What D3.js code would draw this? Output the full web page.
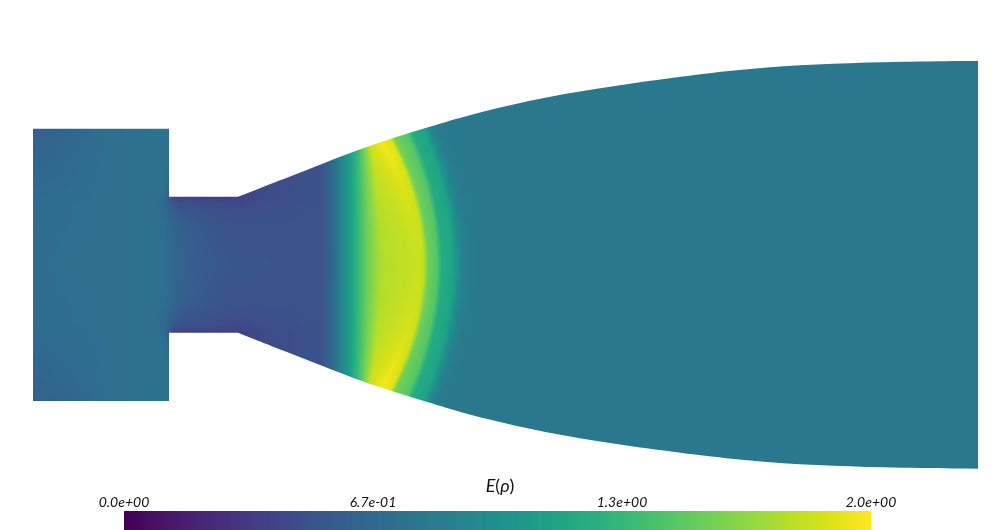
<!DOCTYPE html>
<html lang="en">
<head>
<meta charset="UTF-8">
<title>E(rho) nozzle field</title>
<script src="https://d3js.org/d3.v7.min.js"></script>
<style>
    html, body { margin: 0; padding: 0; background: #fff; }
    #wrap { position: relative; width: 1000px; height: 530px; overflow: hidden; }
    canvas, svg { position: absolute; left: 0; top: 0; }
    text { font-family: 'Lato', sans-serif; fill: #111; }
</style>
</head>
<body>
<div id="wrap">
    <canvas id="field" width="1000" height="530"></canvas>
    <svg id="overlay" width="1000" height="530"></svg>
</div>
<script>
// --- Data ---
// nozzle wall, axial position and half height
const chamberX = [0, 1.36];
const chamberR = [1.36, 1.36];
const throatX = [1.36, 2.05];
const throatR = [0.68, 0.68];
const bellX = [2.05, 2.87, 3.42, 3.97, 4.30, 4.64, 4.97, 5.30, 5.64, 5.97, 6.30, 6.67, 7.34, 8.00, 8.67, 9.45];
const bellR = [0.68, 1.00, 1.215, 1.38, 1.48, 1.565, 1.64, 1.705, 1.76, 1.81, 1.855, 1.905, 1.977, 2.01, 2.03, 2.037];

// field upstream of the shock: E at fixed stations, one row per radius
const upstreamX = [0, 0.37, 0.77, 1.17, 1.32, 1.39, 1.47, 1.72, 2.05, 2.27, 2.67, 2.97];
const upstreamRadii = [0, 0.4, 0.6, 0.68, 0.9, 1.22, 1.36];
const upstreamE = [
    [0.70, 0.72, 0.72, 0.73, 0.71, 0.68, 0.62, 0.56, 0.53, 0.52, 0.50, 0.50],
    [0.70, 0.71, 0.72, 0.73, 0.71, 0.66, 0.60, 0.54, 0.50, 0.50, 0.50, 0.50],
    [0.70, 0.71, 0.72, 0.73, 0.68, 0.56, 0.50, 0.47, 0.44, 0.47, 0.50, 0.50],
    [0.69, 0.70, 0.72, 0.73, 0.70, 0.42, 0.38, 0.37, 0.37, 0.44, 0.49, 0.50],
    [0.66, 0.69, 0.72, 0.74, 0.74, 0.70, 0.60, 0.50, 0.45, 0.45, 0.49, 0.50],
    [0.63, 0.67, 0.72, 0.74, 0.74, 0.74, 0.70, 0.60, 0.50, 0.50, 0.50, 0.50],
    [0.60, 0.65, 0.72, 0.76, 0.76, 0.76, 0.70, 0.60, 0.50, 0.50, 0.50, 0.50]
];

// curved front: the same contours on the axis and near the wall, position and E
const frontWallRadius = 1.22;
const axisX = [2.87, 2.97, 3.04, 3.14, 3.24, 3.34, 3.48, 3.85, 3.90, 3.95, 4.04, 4.09, 4.19, 4.26, 4.35, 4.57];
const wallX = [2.86, 2.96, 3.04, 3.14, 3.23, 3.30, 3.37, 3.49, 3.59, 3.64, 3.78, 3.84, 3.95, 4.02, 4.10, 4.32];
const axisE = [0.50, 0.62, 0.78, 1.05, 1.30, 1.55, 1.76, 1.84, 1.82, 1.56, 1.46, 1.22, 1.17, 0.95, 0.82, 0.80];
const wallE = [0.50, 0.62, 0.78, 1.05, 1.30, 1.55, 1.85, 1.98, 1.90, 1.58, 1.47, 1.22, 1.17, 0.95, 0.82, 0.80];
const farFieldE = 0.80;

const colorbarTicks = [0, 2 / 3, 4 / 3, 2];
const colorbarLabels = ['0.0e+00', '6.7e-01', '1.3e+00', '2.0e+00'];

// --- Scales ---
const x = d3.scaleLinear().domain([0, 9.45]).range([33, 978]);
const y = d3.scaleLinear().domain([-2.04, 2.04]).range([469, 60.6]);
const color = d3.scaleSequential(d3.interpolateViridis).domain([0, 2]);
const barX = d3.scaleLinear().domain([0, 2]).range([124, 871]);

// blend two neighbouring table rows for radius r
function blendRows(radii, rows, r) {
    const i = Math.min(radii.length - 2, Math.max(0, d3.bisectRight(radii, r) - 1));
    const t = Math.min(1, (r - radii[i]) / (radii[i + 1] - radii[i]));
    return rows[i].map((v, k) => v + (rows[i + 1][k] - v) * t);
}

// --- Field ---
const canvas = document.getElementById('field');
const ctx = canvas.getContext('2d');

const buffer = document.createElement('canvas');
buffer.width = 1000;
buffer.height = 530;
const bctx = buffer.getContext('2d');
const img = bctx.createImageData(1000, 530);

const palette = d3.range(1025).map(i => d3.rgb(color(i / 512)));

for (let py = 50; py < 480; py++) {
    const r = Math.abs(y.invert(py + 0.5));
    // the front bends back with the square of the radius
    const w = Math.min(1.3, (r / frontWallRadius) ** 2);
    const upE = blendRows(upstreamRadii, upstreamE, r);
    const frX = axisX.map((v, k) => v + (wallX[k] - v) * w);
    const frE = axisE.map((v, k) => Math.min(2, v + (wallE[k] - v) * w));
    const up = d3.scaleLinear().domain(upstreamX).range(upE).clamp(true);
    const fr = d3.scaleLinear().domain(frX).range(frE).clamp(true);
    for (let px = 30; px < 982; px++) {
        const xv = x.invert(px + 0.5);
        const e = xv < frX[0] ? up(xv) : (xv > frX[frX.length - 1] ? farFieldE : fr(xv));
        const c = palette[Math.round(e * 512)];
        const o = (py * 1000 + px) * 4;
        img.data[o] = c.r;
        img.data[o + 1] = c.g;
        img.data[o + 2] = c.b;
        img.data[o + 3] = 255;
    }
}
bctx.putImageData(img, 0, 0);

// clip the field to the nozzle wall
const straight = d3.area().x(d => x(d[0])).y0(d => y(d[1])).y1(d => y(-d[1]));
const bell = d3.area().x(d => x(d[0])).y0(d => y(d[1])).y1(d => y(-d[1])).curve(d3.curveBasis);
const wall = straight(d3.zip(chamberX, chamberR)) + straight(d3.zip(throatX, throatR)) + bell(d3.zip(bellX, bellR));

ctx.fillStyle = '#fff';
ctx.fillRect(0, 0, 1000, 530);
ctx.save();
ctx.clip(new Path2D(wall));
ctx.drawImage(buffer, 0, 0);
ctx.restore();

// --- Colour bar and labels ---
const svg = d3.select('#overlay');
const barSteps = d3.range(256).map(i => i / 256 * 2);
const barStep = barX(2 / 256) - barX(0);

svg.append('g')
    .selectAll('rect')
    .data(barSteps)
    .join('rect')
    .attr('x', d => barX(d))
    .attr('y', 511)
    .attr('width', d => Math.min(barStep + 0.5, barX(2) - barX(d)))
    .attr('height', 19)
    .attr('fill', d => color(d + 1 / 256))
    .attr('shape-rendering', 'crispEdges');

svg.append('g')
    .selectAll('text')
    .data(colorbarTicks)
    .join('text')
    .attr('x', d => barX(d))
    .attr('y', 507)
    .attr('text-anchor', 'middle')
    .attr('font-size', 14)
    .attr('font-style', 'italic')
    .text((d, i) => colorbarLabels[i]);

const title = svg.append('text')
    .attr('x', 500)
    .attr('y', 492)
    .attr('text-anchor', 'middle')
    .attr('font-size', 18);
title.append('tspan').attr('font-style', 'italic').text('E');
title.append('tspan').text('(');
title.append('tspan').attr('font-style', 'italic').text('ρ');
title.append('tspan').text(')');
</script>
</body>
</html>
